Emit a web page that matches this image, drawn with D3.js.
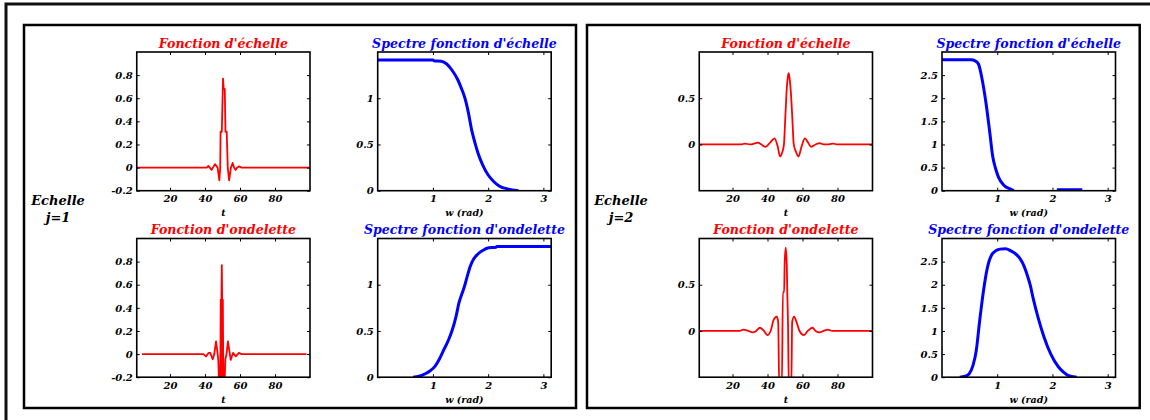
<!DOCTYPE html>
<html><head><meta charset="utf-8">
<script src="https://cdn.jsdelivr.net/npm/d3@7"></script>
<style>
body{margin:0;background:#fff;}
svg{display:block;}
text{font-family:"DejaVu Serif",serif;font-weight:bold;font-style:italic;}
</style>
</head><body><svg id="c" width="1150" height="420"></svg>
<script>
// ---------- data ----------
const timeTicks = [20, 40, 60, 80];
const freqTicks = [1, 2, 3];
const yTicksTime1 = [-0.2, 0, 0.2, 0.4, 0.6, 0.8];
const yTicksSpec1 = [0, 0.5, 1];
const yTicksTime2 = [0, 0.5];
const yTicksSpec2 = [0, 0.5, 1, 1.5, 2, 2.5];
const titles = ["Fonction d'échelle", "Spectre fonction d'échelle", "Fonction d'ondelette", "Spectre fonction d'ondelette"];
const scaleLabels = [["Echelle", "j=1"], ["Echelle", "j=2"]];
const xLabels = ["t", "w (rad)"];

// scale j=1 : scaling function (t, value)
const phi1 = [[1,0],[41,0],[41.9,0.015],[43.8,-0.02],[45.7,0.03],[47.2,0],[48.2,-0.11],[48.7,0],[48.9,0.31],[49.6,0.31],[50.3,0.77],[50.7,0.68],[51.3,0.68],[51.7,0.31],[52.4,0.31],[53.0,0],[53.8,-0.11],[54.8,0],[55.8,0.04],[56.6,0],[57.5,-0.02],[58.4,0],[59.4,0.01],[61,0],[100,0]];
// scale j=1 : wavelet
const psi1 = [[4,0],[39,0],[40.6,-0.02],[42,0.01],[43,0.01],[44.4,-0.045],[45.3,0],[46.3,0.11],[47,0.03],[47.6,-0.05],[48.1,-0.3],[48.7,-0.3],[49.0,0.47],[49.2,-0.3],[49.4,0.47],[49.6,0.77],[49.8,0.47],[50.0,-0.3],[50.2,0.47],[50.5,-0.3],[51.1,-0.3],[51.6,-0.05],[52.3,0],[53.1,0.11],[53.9,0.03],[54.7,-0.05],[56,0.01],[57.6,-0.02],[59.4,0.01],[61,0],[98,0]];
// scale j=1 : spectra (w, |H|)
const sPhi1 = [[0,1.414],[1.0,1.414],[1.02,1.405],[1.15,1.40],[1.25,1.37],[1.35,1.30],[1.45,1.20],[1.52,1.10],[1.58,1.0],[1.64,0.85],[1.70,0.66],[1.76,0.52],[1.82,0.40],[1.90,0.28],[2.0,0.17],[2.1,0.10],[2.2,0.05],[2.35,0.02],[2.55,0.0]];
const sPsi1 = [[0.64,0],[0.75,0.01],[0.87,0.04],[0.95,0.07],[1.04,0.12],[1.12,0.2],[1.2,0.30],[1.28,0.40],[1.35,0.51],[1.42,0.66],[1.47,0.80],[1.53,0.91],[1.58,1.0],[1.63,1.11],[1.67,1.19],[1.74,1.28],[1.81,1.33],[1.9,1.37],[2.01,1.40],[2.14,1.405],[2.16,1.414],[3.1416,1.414]];
// scale j=2 : scaling function
const phi2 = [[1,0],[25,0],[27,0.01],[30,0],[34.6,0.02],[36.5,0],[38.9,-0.025],[41.5,0.02],[44,0.065],[45.8,-0.02],[47.2,-0.13],[48.5,-0.08],[49.4,0],[50.2,0.3],[51.0,0.6],[51.7,0.74],[52.1,0.77],[52.6,0.72],[53.4,0.55],[54.2,0.28],[55,0],[56.3,-0.08],[57.7,-0.13],[59.5,-0.02],[61.4,0.065],[63.2,0.02],[64.9,-0.025],[67.5,0],[69.8,0.015],[72,0],[74,0],[77.4,0.01],[80,0],[100,0]];
// scale j=2 : wavelet
const psi2 = [[1,0],[24,0],[26.3,0.015],[29,0],[31.5,-0.015],[33.5,0],[35.7,0.035],[38,0],[39.9,-0.045],[41.8,0],[43.5,0.12],[45.3,0.155],[46.1,0.1],[46.7,-0.6],[48.2,-0.6],[48.8,0.42],[49.5,0.42],[49.8,0.73],[50.4,0.9],[51.0,0.73],[51.3,0.42],[51.7,0.1],[52.2,-0.6],[53.6,-0.6],[54.1,0.1],[55.2,0.155],[56.5,0.1],[58.3,0],[60.9,-0.045],[63,0],[65.7,0.035],[67.5,0],[69.8,-0.015],[72,0],[74.4,0.015],[77,0],[100,0]];
// scale j=2 : spectra (NaN = gap)
const sPhi2 = [[0,2.83],[0.53,2.83],[0.6,2.81],[0.66,2.74],[0.72,2.45],[0.79,1.95],[0.86,1.31],[0.92,0.73],[0.97,0.48],[1.02,0.30],[1.12,0.12],[1.25,0.03],[1.3,0],[NaN,NaN],[2.08,0.02],[2.54,0.02]];
const sPsi2 = [[0.32,0],[0.42,0.02],[0.49,0.07],[0.56,0.25],[0.62,0.57],[0.68,1.2],[0.75,1.86],[0.82,2.36],[0.92,2.68],[1.05,2.77],[1.15,2.78],[1.25,2.73],[1.33,2.67],[1.41,2.57],[1.48,2.42],[1.54,2.22],[1.6,1.98],[1.65,1.71],[1.74,1.29],[1.85,0.86],[1.97,0.50],[2.11,0.22],[2.2,0.11],[2.28,0.04],[2.44,0]];

// ---------- layout ----------
const svg = d3.select("#c");
const PH = 138.7, TW = 173.25, SW = 173.5;
const rowY = [52, 238.5];
const boxes = [
  {tx: 136.75, sx: 377.7, lx: 58, rect: [24, 25, 552, 383]},
  {tx: 699.25, sx: 942, lx: 621, rect: [587, 25, 552.7, 383]}
];

svg.append("rect").attr("x", 6).attr("y", 4).attr("width", 1300).attr("height", 600)
  .attr("fill", "none").attr("stroke", "#111").attr("stroke-width", 3);
boxes.forEach(b => {
  svg.append("rect").attr("x", b.rect[0]).attr("y", b.rect[1]).attr("width", b.rect[2]).attr("height", b.rect[3])
    .attr("fill", "none").attr("stroke", "#000").attr("stroke-width", 2.5);
});

const panels = [
  {b: 0, r: 0, kind: "t", data: phi1, smooth: false, ydom: [-0.2, 1.0], yt: yTicksTime1, title: titles[0], color: "#ff0000"},
  {b: 0, r: 0, kind: "s", data: sPhi1, smooth: true, ydom: [0, 1.5], yt: yTicksSpec1, title: titles[1], color: "#0000ff"},
  {b: 0, r: 1, kind: "t", data: psi1, smooth: false, ydom: [-0.2, 1.0], yt: yTicksTime1, title: titles[2], color: "#ff0000"},
  {b: 0, r: 1, kind: "s", data: sPsi1, smooth: true, ydom: [0, 1.5], yt: yTicksSpec1, title: titles[3], color: "#0000ff"},
  {b: 1, r: 0, kind: "t", data: phi2, smooth: true, ydom: [-0.5, 1.0], yt: yTicksTime2, title: titles[0], color: "#ff0000"},
  {b: 1, r: 0, kind: "s", data: sPhi2, smooth: true, ydom: [0, 3.0], yt: yTicksSpec2, title: titles[1], color: "#0000ff"},
  {b: 1, r: 1, kind: "t", data: psi2, smooth: true, ydom: [-0.5, 1.0], yt: yTicksTime2, title: titles[2], color: "#ff0000"},
  {b: 1, r: 1, kind: "s", data: sPsi2, smooth: true, ydom: [0, 3.0], yt: yTicksSpec2, title: titles[3], color: "#0000ff"}
];

panels.forEach((p, i) => {
  const b = boxes[p.b];
  const isT = p.kind === "t";
  const x0 = isT ? b.tx : b.sx, w = isT ? TW : SW, y0 = rowY[p.r];
  const x = d3.scaleLinear().domain(isT ? [1, 100] : [0, Math.PI]).range([0, w]);
  const y = d3.scaleLinear().domain(p.ydom).range([PH, 0]);
  const g = svg.append("g").attr("transform", `translate(${x0},${y0})`);
  const cid = "clip" + i;
  g.append("clipPath").attr("id", cid).append("rect").attr("width", w).attr("height", PH);

  const line = d3.line().defined(d => !isNaN(d[0])).x(d => x(d[0])).y(d => y(d[1]))
    .curve(p.smooth ? d3.curveMonotoneX : d3.curveLinear);
  g.append("path").datum(p.data).attr("clip-path", `url(#${cid})`).attr("d", line)
    .attr("fill", "none").attr("stroke", p.color).attr("stroke-width", isT ? 1.8 : 3)
    .attr("stroke-linejoin", "round");

  const xt = isT ? timeTicks : freqTicks;
  const fmt = d => String(d);
  const ax = (axis, tr) => {
    const a = g.append("g").attr("transform", tr).call(axis);
    a.select(".domain").remove();
    a.selectAll("line").attr("stroke", "#000").attr("stroke-width", 1);
    a.selectAll("text").attr("font-size", 10).attr("fill", "#000")
      .attr("font-family", "DejaVu Serif").attr("font-weight", "bold").attr("font-style", "italic");
    return a;
  };
  ax(d3.axisBottom(x).tickValues(xt).tickSize(-3).tickPadding(4.5).tickFormat(fmt), `translate(0,${PH})`);
  ax(d3.axisTop(x).tickValues(xt).tickSize(-3).tickFormat(""), "translate(0,0)");
  ax(d3.axisLeft(y).tickValues(p.yt).tickSize(-3).tickPadding(4).tickFormat(fmt), "translate(0,0)");
  ax(d3.axisRight(y).tickValues(p.yt).tickSize(-3).tickFormat(""), `translate(${w},0)`);

  g.append("rect").attr("width", w).attr("height", PH).attr("fill", "none")
    .attr("stroke", "#000").attr("stroke-width", 1.6);

  g.append("text").attr("x", w / 2).attr("y", p.r === 0 ? -4 : -5).attr("text-anchor", "middle")
    .attr("font-size", 12.6).attr("fill", p.color).text(p.title);
  g.append("text").attr("x", w / 2).attr("y", PH + 25.5).attr("text-anchor", "middle")
    .attr("font-size", 9.5).attr("fill", "#000").text(isT ? xLabels[0] : xLabels[1]);
});

boxes.forEach((b, i) => {
  svg.append("text").attr("x", b.lx).attr("y", 205).attr("text-anchor", "middle")
    .attr("font-size", 13).attr("fill", "#000").text(scaleLabels[i][0]);
  svg.append("text").attr("x", b.lx).attr("y", 222).attr("text-anchor", "middle")
    .attr("font-size", 13).attr("fill", "#000").text(scaleLabels[i][1]);
});
</script>
</body></html>
